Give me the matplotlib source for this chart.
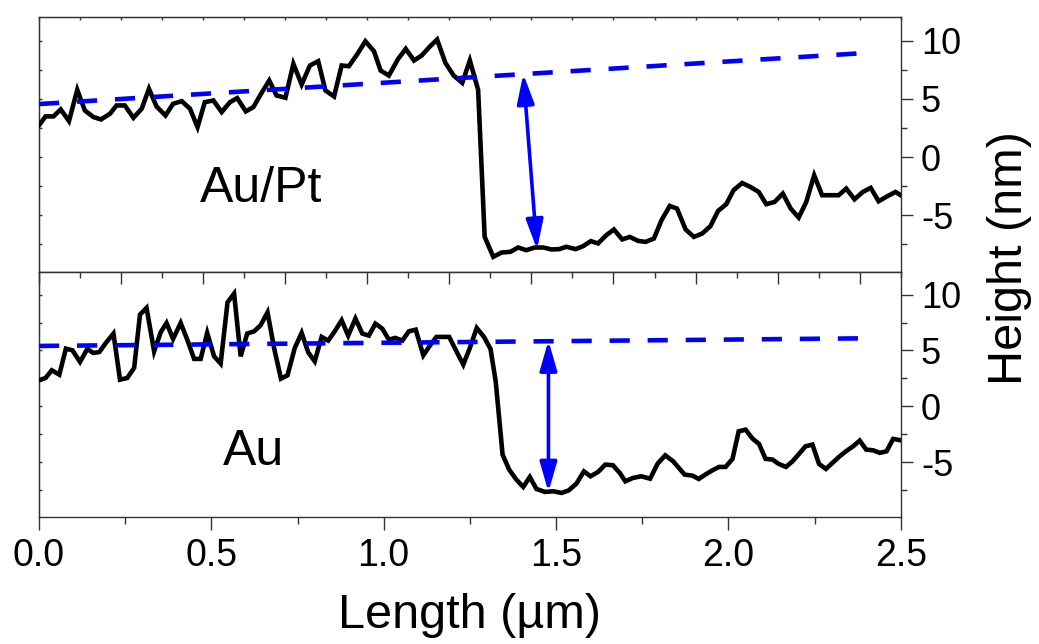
import matplotlib
matplotlib.use("Agg")
import matplotlib.pyplot as plt
from matplotlib.ticker import MultipleLocator, FixedLocator, NullFormatter
import numpy as np

plt.rcParams['font.family'] = ['Liberation Sans', 'DejaVu Sans']

# ---------- Perfis de altura (AFM) ---------- #
# Au/Pt
top_x = [0.000, 0.019, 0.042, 0.063, 0.087, 0.111, 0.133, 0.158, 0.180, 0.206,
         0.225, 0.249, 0.274, 0.298, 0.319, 0.341, 0.367, 0.389, 0.414, 0.438,
         0.460, 0.481, 0.506, 0.530, 0.554, 0.575, 0.600, 0.622, 0.646, 0.668,
         0.689, 0.715, 0.738, 0.762, 0.786, 0.810, 0.831, 0.856, 0.878, 0.899,
         0.924, 0.947, 0.972, 0.991, 1.015, 1.042, 1.064, 1.088, 1.110, 1.134,
         1.155, 1.179, 1.203, 1.228, 1.250, 1.274, 1.293, 1.318, 1.342, 1.368,
         1.390, 1.414, 1.438, 1.463, 1.487, 1.509, 1.530, 1.557, 1.579, 1.601,
         1.622, 1.646, 1.668, 1.692, 1.714, 1.738, 1.760, 1.784, 1.806, 1.830,
         1.851, 1.876, 1.900, 1.924, 1.948, 1.970, 1.994, 2.015, 2.040, 2.064,
         2.088, 2.110, 2.134, 2.158, 2.181, 2.204, 2.226, 2.249, 2.272, 2.294,
         2.320, 2.342, 2.366, 2.390, 2.413, 2.436, 2.461, 2.485, 2.500]
top_h = [2.72, 3.49, 3.49, 4.09, 3.09, 5.77, 4.00, 3.43, 3.23, 3.72,
         4.43, 4.43, 3.37, 4.15, 5.86, 4.34, 3.57, 4.57, 4.80, 4.15,
         2.57, 4.71, 4.86, 3.86, 4.71, 5.06, 3.92, 4.29, 5.52, 6.57,
         5.29, 5.09, 8.00, 6.23, 7.86, 8.23, 5.72, 5.20, 7.86, 7.80,
         8.86, 9.94, 9.08, 7.43, 7.00, 8.43, 9.29, 8.29, 8.71, 9.49,
         10.09, 8.09, 7.00, 6.37, 8.29, 5.77, -6.86, -8.57, -8.20, -8.14,
         -7.77, -8.00, -7.77, -7.77, -7.94, -7.91, -7.71, -7.91, -7.65, -7.22,
         -7.42, -6.71, -6.22, -7.08, -6.86, -7.20, -7.29, -7.00, -5.43, -4.20,
         -4.43, -6.22, -6.86, -6.57, -5.94, -4.63, -4.05, -2.85, -2.23, -2.57,
         -3.00, -4.05, -3.86, -3.14, -4.43, -5.20, -3.86, -1.57, -3.28, -3.28,
         -3.28, -2.71, -3.63, -3.00, -2.65, -3.80, -3.37, -3.00, -3.28]

# Au
bot_x = [0.000, 0.019, 0.037, 0.059, 0.078, 0.097, 0.119, 0.140, 0.158, 0.175,
         0.194, 0.216, 0.235, 0.256, 0.276, 0.293, 0.312, 0.334, 0.353, 0.370,
         0.389, 0.411, 0.430, 0.450, 0.469, 0.488, 0.508, 0.527, 0.547, 0.566,
         0.585, 0.604, 0.624, 0.643, 0.663, 0.682, 0.702, 0.721, 0.742, 0.762,
         0.781, 0.800, 0.820, 0.839, 0.858, 0.878, 0.897, 0.918, 0.938, 0.957,
         0.976, 0.996, 1.015, 1.034, 1.054, 1.073, 1.093, 1.115, 1.134, 1.153,
         1.173, 1.190, 1.211, 1.231, 1.250, 1.270, 1.291, 1.310, 1.325, 1.345,
         1.364, 1.385, 1.405, 1.424, 1.443, 1.468, 1.492, 1.516, 1.537, 1.559,
         1.581, 1.600, 1.622, 1.643, 1.665, 1.685, 1.701, 1.723, 1.747, 1.773,
         1.795, 1.817, 1.840, 1.873, 1.896, 1.914, 1.936, 1.954, 1.973, 1.992,
         2.012, 2.030, 2.050, 2.070, 2.089, 2.108, 2.128, 2.146, 2.167, 2.186,
         2.205, 2.224, 2.244, 2.263, 2.283, 2.302, 2.321, 2.341, 2.362, 2.381,
         2.400, 2.420, 2.439, 2.459, 2.478, 2.500]
bot_h = [2.32, 2.53, 3.22, 2.83, 5.16, 5.01, 3.97, 5.13, 4.77, 4.86,
         5.67, 6.51, 2.38, 2.53, 3.43, 8.21, 8.81, 4.92, 6.62, 7.46,
         6.03, 7.46, 5.97, 4.24, 4.24, 6.57, 4.47, 3.82, 9.31, 10.09,
         4.47, 6.51, 6.71, 7.25, 8.41, 5.22, 2.47, 2.77, 5.22, 6.57,
         4.83, 4.02, 6.21, 5.88, 6.71, 7.70, 6.33, 7.85, 6.51, 6.33,
         7.40, 6.95, 5.97, 6.12, 5.88, 6.71, 6.86, 4.56, 5.43, 6.21,
         6.21, 6.21, 4.92, 3.73, 5.22, 7.01, 6.21, 5.13, 2.23, -4.34,
         -5.68, -6.58, -7.23, -6.34, -7.41, -7.68, -7.62, -7.77, -7.54, -6.94,
         -5.84, -6.28, -5.89, -5.23, -5.29, -5.98, -6.73, -6.43, -6.28, -6.49,
         -5.14, -4.40, -4.94, -6.13, -6.22, -6.52, -6.07, -5.74, -5.44, -5.44,
         -4.72, -2.25, -2.10, -2.90, -3.38, -4.72, -4.78, -5.17, -5.44, -4.94,
         -4.27, -3.59, -3.44, -5.17, -5.62, -5.08, -4.54, -4.04, -3.59, -3.08,
         -3.89, -3.95, -4.18, -4.04, -2.93, -3.05]

# Linha de base do filme (tracejada) e degrau medido
top_base_x = [0.0, 2.40]
top_base_h = [4.55, 8.94]
bot_base_x = [0.0, 2.38]
bot_base_h = [5.40, 6.08]

top_step_x = [1.405, 1.445]
top_step_h = [7.15, -7.94]
bot_step_x = [1.478, 1.478]
bot_step_h = [5.88, -7.68]

labels = ['Au/Pt', 'Au']

# ticks do eixo superior (escala do perfil)
top_ticks = np.linspace(0, 2.5, 22)

FIG_W, FIG_H = 1039, 644
L, R = 39 / FIG_W, 900.7 / FIG_W
Y_TOP, Y_MID, Y_BOT = 1 - 17.3 / FIG_H, 1 - 272.3 / FIG_H, 1 - 516.7 / FIG_H

fig = plt.figure(figsize=(FIG_W / 100, FIG_H / 100), dpi=100)
ax_top = fig.add_axes([L, Y_MID, R - L, Y_TOP - Y_MID])
ax_bot = fig.add_axes([L, Y_BOT, R - L, Y_MID - Y_BOT])

SPINE = '#333333'
DASH = (4.4, 3.9)

for ax, xs, hs, bx, bh, sx, sh in [
        (ax_top, top_x, top_h, top_base_x, top_base_h, top_step_x, top_step_h),
        (ax_bot, bot_x, bot_h, bot_base_x, bot_base_h, bot_step_x, bot_step_h)]:
    ax.plot(xs, hs, color='black', lw=3.3, zorder=3, solid_joinstyle='miter')
    ax.plot(bx, bh, color='#0000ff', lw=3.3, dashes=DASH, zorder=4)
    ax.annotate('', xy=(sx[1], sh[1]), xytext=(sx[0], sh[0]),
                arrowprops=dict(arrowstyle='<|-|>,head_length=0.9,head_width=0.26',
                                color='#0000ff', lw=2.6, mutation_scale=20,
                                shrinkA=0, shrinkB=0), zorder=5)

    ax.set_xlim(0, 2.5)
    ax.set_ylim(-9.9, 12)
    for sp in ax.spines.values():
        sp.set_color(SPINE)
        sp.set_linewidth(1.0)

    # eixo y à direita, ticks para fora
    ax.yaxis.tick_right()
    ax.yaxis.set_major_locator(FixedLocator([-5, 0, 5, 10]))
    ax.yaxis.set_minor_locator(FixedLocator([-7.5, -2.5, 2.5, 7.5]))
    ax.tick_params(axis='y', which='major', direction='out', length=8.6,
                   width=1.0, color=SPINE, labelsize=26, pad=6)
    ax.tick_params(axis='y', which='minor', direction='out', length=4.3,
                   width=1.0, color=SPINE)
    ax.set_yticklabels(['-5', '0', '5', '10'])

    # ticks curtos para dentro no lado esquerdo
    sec_y = ax.secondary_yaxis('left')
    sec_y.yaxis.set_major_locator(FixedLocator([-7.5, -5, -2.5, 0, 2.5, 5, 7.5, 10]))
    sec_y.yaxis.set_major_formatter(NullFormatter())
    sec_y.tick_params(direction='in', length=2, width=1.0, color=SPINE)
    sec_y.spines['left'].set_color(SPINE)

# painel de cima: sem ticks embaixo, ticks minúsculos em cima
ax_top.tick_params(axis='x', which='both', bottom=False, labelbottom=False)
sec_top = ax_top.secondary_xaxis('top')
sec_top.xaxis.set_major_locator(FixedLocator(top_ticks))
sec_top.xaxis.set_major_formatter(NullFormatter())
sec_top.tick_params(direction='in', length=1.8, width=1.0, color=SPINE)
sec_top.spines['top'].set_color(SPINE)

# painel de baixo: ticks do perfil em cima, escala em µm embaixo
sec_mid = ax_bot.secondary_xaxis('top')
sec_mid.xaxis.set_major_locator(FixedLocator(top_ticks[::2]))
sec_mid.xaxis.set_minor_locator(FixedLocator(top_ticks[1::2]))
sec_mid.xaxis.set_major_formatter(NullFormatter())
sec_mid.tick_params(which='major', direction='in', length=8.6, width=1.0, color=SPINE)
sec_mid.tick_params(which='minor', direction='in', length=4.3, width=1.0, color=SPINE)
sec_mid.spines['top'].set_color(SPINE)

ax_bot.xaxis.set_major_locator(MultipleLocator(0.5))
ax_bot.xaxis.set_minor_locator(MultipleLocator(0.25))
ax_bot.xaxis.set_major_formatter(plt.FuncFormatter(lambda v, p: f'{v:.1f}'))
ax_bot.tick_params(axis='x', which='major', direction='out', length=9.0,
                   width=1.0, color=SPINE, labelsize=27, pad=6)
ax_bot.tick_params(axis='x', which='minor', direction='out', length=4.8,
                   width=1.0, color=SPINE)
ax_bot.set_xlabel('Length (µm)', fontsize=35, labelpad=14)

ax_top.text(0.467, -3.86, labels[0], fontsize=36, ha='left', va='baseline')
ax_bot.text(0.534, -5.23, labels[1], fontsize=36, ha='left', va='baseline')

fig.text(1010 / FIG_W, 1 - 258 / FIG_H, 'Height (nm)', fontsize=35,
         rotation=90, ha='center', va='center')

fig.savefig('out.png', dpi=100)
